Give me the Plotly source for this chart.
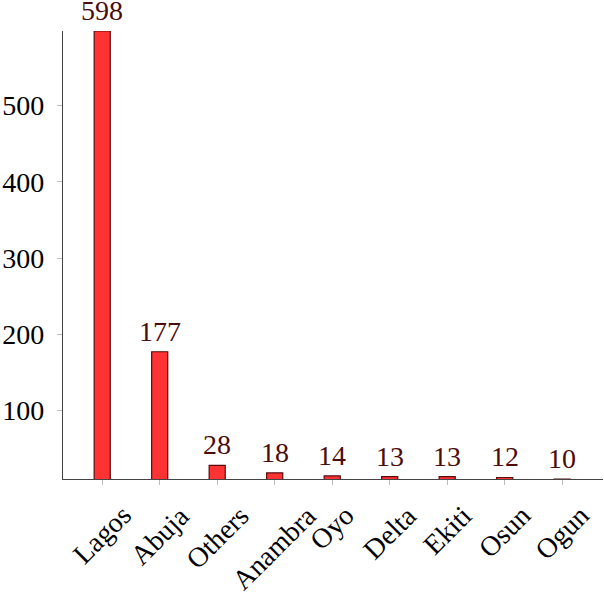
import plotly.graph_objects as go

states = ["Lagos", "Abuja", "Others", "Anambra", "Oyo", "Delta", "Ekiti", "Osun", "Ogun"]
counts = [598, 177, 28, 18, 14, 13, 13, 12, 10]
y_ticks = [100, 200, 300, 400, 500]

FONT = "Liberation Serif"
positions = list(range(len(states)))

fig = go.Figure()

fig.add_trace(go.Bar(
    x=positions, y=counts,
    width=0.28,
    marker=dict(color="#ff3333", line=dict(color="#5c0a0a", width=1.2)),
    showlegend=False,
    hoverinfo="x+y",
))

# value labels above bars
for i, v in enumerate(counts):
    fig.add_annotation(
        x=i, y=v, xref="x", yref="y",
        text=str(v), showarrow=False,
        xanchor="center", yanchor="bottom", yshift=3,
        font=dict(family=FONT, size=28, color="#4a0c0c"),
    )

# rotated category labels
for i, name in enumerate(states):
    fig.add_annotation(
        x=i, y=0, xref="x", yref="paper",
        text=name, showarrow=False, textangle=-45,
        xanchor="center", yanchor="top", yshift=-18,
        font=dict(family=FONT, size=28, color="black"),
    )

fig.update_layout(
    width=604, height=594,
    margin=dict(l=63, r=1, t=31, b=115, autoexpand=False),
    paper_bgcolor="white", plot_bgcolor="white",
    font=dict(family=FONT, size=28, color="black"),
    xaxis=dict(
        range=[-0.682, 8.71], automargin=False,
        tickvals=positions, showticklabels=False,
        ticks="outside", ticklen=5, tickcolor="#bbbbbb", tickwidth=1,
        showgrid=False, zeroline=False,
        showline=True, linecolor="#444444", linewidth=1.3,
    ),
    yaxis=dict(
        range=[10, 598], automargin=False,
        tickvals=y_ticks,
        ticks="outside", ticklen=5, tickcolor="#bbbbbb", tickwidth=1,
        ticklabelstandoff=7,
        tickfont=dict(family=FONT, size=28, color="black"),
        showgrid=False, zeroline=False,
        showline=True, linecolor="#444444", linewidth=1.3,
    ),
    # overlay axes just to get the inner half of the ticks
    xaxis2=dict(
        overlaying="x", matches="x", anchor="y", automargin=False,
        tickvals=positions, showticklabels=False,
        ticks="inside", ticklen=5, tickcolor="#bbbbbb", tickwidth=1,
        showgrid=False, zeroline=False, showline=False,
    ),
    yaxis2=dict(
        overlaying="y", matches="y", anchor="x", side="left", automargin=False,
        tickvals=y_ticks, showticklabels=False,
        ticks="inside", ticklen=5, tickcolor="#bbbbbb", tickwidth=1,
        showgrid=False, zeroline=False, showline=False,
    ),
)

# page has a default 8px body margin, drop it so the figure sits at the corner
fig.write_html("out.html", config={"displayModeBar": False},
               post_script="document.body.style.margin='0';")
